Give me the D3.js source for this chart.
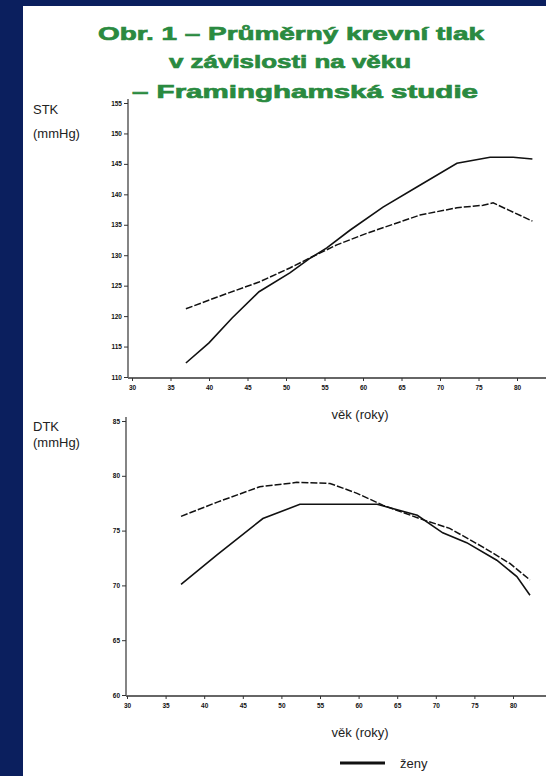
<!DOCTYPE html>
<html>
<head>
<meta charset="utf-8">
<script src="https://cdn.jsdelivr.net/npm/d3@7"></script>
<style>
  html, body { margin: 0; padding: 0; background: #0b1f5e; }
  svg { display: block; }
</style>
</head>
<body>
<div id="chart"></div>
<script>
// values (age in years, pressure in mmHg)
const ageTicks = [30, 35, 40, 45, 50, 55, 60, 65, 70, 75, 80];
const stkTicks = [110, 115, 120, 125, 130, 135, 140, 145, 150, 155];
const dtkTicks = [60, 65, 70, 75, 80, 85];

const stkWomenAge = [37, 40, 43, 46.5, 50.5, 53, 55.3, 58.3, 62.6, 67, 72.2, 76.5, 79.5, 82];
const stkWomen = [112.3, 115.6, 119.7, 124, 127.1, 129.4, 131.2, 134.1, 137.9, 141.2, 145.1, 146.1, 146.1, 145.8];
const stkMenAge = [37, 41, 46.5, 50.5, 53, 56.6, 60.5, 67.4, 72.2, 75.6, 76.9, 82];
const stkMen = [121.2, 123.1, 125.6, 127.9, 129.5, 131.7, 133.6, 136.6, 137.8, 138.2, 138.6, 135.6];

const dtkWomenAge = [37, 41.7, 47.6, 52.4, 62.4, 67.6, 70.9, 74, 77.9, 80.5, 82.2];
const dtkWomen = [70.1, 72.8, 76.1, 77.4, 77.4, 76.4, 74.8, 73.9, 72.3, 70.8, 69.1];
const dtkMenAge = [37, 41.7, 47.2, 52, 56.3, 59.8, 63.2, 68.3, 71.8, 76.1, 79.6, 82.2];
const dtkMen = [76.3, 77.6, 79, 79.4, 79.3, 78.4, 77.3, 76, 75.2, 73.5, 72, 70.5];

const titleLines = ["Obr. 1 – Průměrný krevní tlak", "v závislosti na věku", "– Framinghamská studie"];

const width = 546,
  height = 776;

const svg = d3.select("#chart")
  .append("svg")
  .attr("width", width)
  .attr("height", height);

// white slide panel on the navy background
svg.append("rect")
  .attr("x", 23)
  .attr("y", 6)
  .attr("width", width - 23)
  .attr("height", height - 6)
  .attr("fill", "#fff");

// title
const titlePos = [
  { cx: 291, y: 40, w: 386 },
  { cx: 290, y: 68, w: 242 },
  { cx: 305, y: 98, w: 346 }
];
svg.append("g")
  .selectAll("text")
  .data(titleLines)
  .join("text")
  .attr("x", (d, i) => titlePos[i].cx)
  .attr("y", (d, i) => titlePos[i].y)
  .attr("text-anchor", "middle")
  .attr("textLength", (d, i) => titlePos[i].w)
  .attr("lengthAdjust", "spacingAndGlyphs")
  .attr("font-family", "Liberation Sans, Arial, sans-serif")
  .attr("font-weight", "bold")
  .attr("font-size", 19)
  .attr("fill", "#2a8a40")
  .attr("stroke", "#2a8a40")
  .attr("stroke-width", 0.7)
  .text(d => d);

function drawPanel(opt) {
  const x = d3.scaleLinear().domain([30, 80]).range([opt.x0, opt.x1]);
  const y = d3.scaleLinear().domain(opt.yDomain).range([opt.yBottom, opt.yTop]);
  const g = svg.append("g");

  // y axis
  const yAxis = g.append("g")
    .attr("transform", `translate(${opt.axisX},0)`)
    .call(d3.axisLeft(y).tickValues(opt.yTicks).tickSize(4).tickPadding(2));
  yAxis.select(".domain")
    .attr("d", `M0,${opt.yBottom}V${opt.yTop - 4}`)
    .attr("stroke", "#333")
    .attr("stroke-width", 1.2);

  // x axis
  const xAxis = g.append("g")
    .attr("transform", `translate(0,${opt.yBottom + 1})`)
    .call(d3.axisBottom(x).tickValues(ageTicks).tickSize(3).tickPadding(4));
  xAxis.select(".domain")
    .attr("d", `M${opt.axisX},0H${width}`)
    .attr("stroke", "#333")
    .attr("stroke-width", 1.4);

  g.selectAll(".tick text")
    .attr("font-family", "Liberation Sans, Arial, sans-serif")
    .attr("font-weight", "bold")
    .attr("font-size", 6.5)
    .attr("fill", "#111");
  g.selectAll(".tick line").attr("stroke", "#333");

  // axis titles
  const lab = g.append("g")
    .attr("font-family", "Liberation Sans, Arial, sans-serif")
    .attr("font-size", 13)
    .attr("fill", "#222");
  lab.append("text").attr("x", 33).attr("y", opt.labelY).text(opt.name);
  lab.append("text").attr("x", 33).attr("y", opt.labelY + opt.labelGap).text("(mmHg)");
  lab.append("text")
    .attr("x", 360)
    .attr("y", opt.yBottom + 42)
    .attr("text-anchor", "middle")
    .text("věk (roky)");

  const line = d3.line()
    .x(d => x(d[0]))
    .y(d => y(d[1]));

  g.append("path")
    .datum(d3.zip(opt.menAge, opt.men))
    .attr("fill", "none")
    .attr("stroke", "#111")
    .attr("stroke-width", 1.5)
    .attr("stroke-dasharray", "7,2")
    .attr("d", line);

  g.append("path")
    .datum(d3.zip(opt.womenAge, opt.women))
    .attr("fill", "none")
    .attr("stroke", "#111")
    .attr("stroke-width", 1.6)
    .attr("d", line);
}

drawPanel({
  name: "STK",
  labelY: 114,
  labelGap: 24,
  axisX: 128,
  x0: 132,
  x1: 517,
  yTop: 103,
  yBottom: 377,
  yDomain: [110, 155],
  yTicks: stkTicks,
  womenAge: stkWomenAge,
  women: stkWomen,
  menAge: stkMenAge,
  men: stkMen
});

drawPanel({
  name: "DTK",
  labelY: 431,
  labelGap: 16,
  axisX: 126,
  x0: 127,
  x1: 513,
  yTop: 421,
  yBottom: 695,
  yDomain: [60, 85],
  yTicks: dtkTicks,
  womenAge: dtkWomenAge,
  women: dtkWomen,
  menAge: dtkMenAge,
  men: dtkMen
});

// legend
const legend = svg.append("g").attr("transform", "translate(340,763)");
legend.append("line")
  .attr("x1", 0)
  .attr("x2", 45)
  .attr("stroke", "#111")
  .attr("stroke-width", 3);
legend.append("text")
  .attr("x", 60)
  .attr("dy", "0.35em")
  .attr("font-family", "Liberation Sans, Arial, sans-serif")
  .attr("font-size", 13)
  .attr("fill", "#222")
  .text("ženy");
</script>
</body>
</html>
